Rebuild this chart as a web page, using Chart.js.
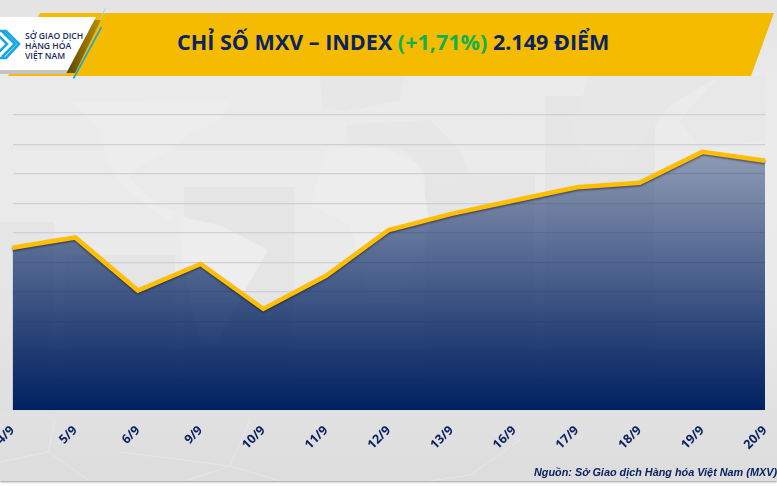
<!DOCTYPE html>
<html lang="vi"><head><meta charset="utf-8">
<script src="https://cdn.jsdelivr.net/npm/chart.js@4"></script>
<style>
html,body{margin:0;padding:0;width:777px;height:486px;overflow:hidden;background:#fff}
#wrap{position:absolute;left:0;top:0;width:777px;height:481px;overflow:hidden;background:linear-gradient(#e4e4e4 0,#ebebeb 90px,#eaeaea 300px,#dddddd 470px);box-shadow:0 1px 2px #999}
svg{position:absolute;left:0;top:0}
canvas{position:absolute;left:0;top:0}
#title{position:absolute;left:177px;top:27px;font:700 21.55px "Open Sans",sans-serif;color:#0b2361;white-space:nowrap;line-height:30px}
#title b{color:#12b150;font-weight:700}
#source{position:absolute;right:0;top:466px;font:italic 700 10.85px "Liberation Sans",sans-serif;color:#0b2361;white-space:nowrap}
.lg{position:absolute;left:25px;font:600 8.6px/10px "Open Sans",sans-serif;color:#1a2a5c;white-space:nowrap}
</style></head><body>
<div id="wrap">
<svg width="777" height="486">
 <defs><linearGradient id="gs" x1="0" x2="1" y1="0" y2="0"><stop offset="0" stop-color="#4a3805"/><stop offset="1" stop-color="#b58c06"/></linearGradient></defs>
 <g fill="#dcdcdc" opacity=".3">
  <rect x="0" y="222" width="54" height="190"/><rect x="65" y="255" width="110" height="155"/>
  <rect x="184" y="187" width="110" height="223"/><rect x="545" y="96" width="110" height="314"/>
  <rect x="425" y="175" width="110" height="235"/>
 </g>
 <g fill="#eeeeee" opacity=".9">
  <path d="M72 102 L232 100 L222 118 L190 132 L172 150 L140 166 L130 178 L158 206 L176 212 L170 222 L152 210 L125 188 L108 164 L98 128 Z"/>
  <path d="M178 216 L222 226 L268 250 L240 300 L215 345 L198 335 L186 280 Z"/>
  <path d="M325 150 L380 145 L420 165 L430 225 L400 300 L370 300 L350 225 L310 205 Z"/>
 </g>
 <g fill="#e7e7e7">
  <path d="M320 76 L405 76 L400 100 L345 112 L322 108 Z"/>
  <path d="M345 125 L430 120 L460 150 L470 175 L440 190 L405 150 L350 145 Z"/>
  <path d="M590 76 L720 76 L670 105 L640 145 L620 170 L590 165 L570 130 Z"/>
  <path d="M720 76 L766 76 L766 140 L700 150 L680 120 Z" opacity=".7"/>
 </g>
 <g stroke="#efefef" stroke-width="1" fill="none" opacity=".45">
  <path d="M48 452 L0 462 M48 452 L90 481 M48 452 L55 420 M230 466 L185 481 M230 466 L280 481 M230 466 L250 420 M230 466 L120 452 M470 475 L430 481 M470 475 L520 440 M7 170 L60 120 M7 170 L100 210 M100 205 L40 260"/>
 </g>
 <polygon points="40,13 774,13 751,76 8,76" fill="#f4bb00"/>
 <polygon points="92,20 101,20 75,73 66,73" fill="url(#gs)" opacity=".9"/>
 <polygon points="0,70 68,70 66,74 0,74" fill="#c4c4c4"/>
 <polygon points="0,17 96,17 68,70 0,70" fill="#fff"/>
 <line x1="101.5" y1="27" x2="73.5" y2="78.5" stroke="#1aa7e0" stroke-width="1.6"/>
 <line x1="105.5" y1="8" x2="100" y2="20" stroke="#a9d3df" stroke-width="1"/>
 <path d="M-4 33 L7 44 L-4 55 M2 31 L15 44 L2 57 M0 31 L6 31 L19 44 L6 58 L0 58" fill="none" stroke="#1aa7e0" stroke-width="2.6"/>
</svg>
<div class="lg" style="top:31px">SỞ GIAO DỊCH</div>
<div class="lg" style="top:41px">HÀNG HÓA</div>
<div class="lg" style="top:51px">VIỆT NAM</div>
<div id="title">CHỈ SỐ MXV – INDEX <b>(+1,71%)</b> 2.149 ĐIỂM</div>
<canvas id="c" width="777" height="486"></canvas>
<div id="source">Nguồn: Sở Giao dịch Hàng hóa Việt Nam (MXV)</div>
</div>
<script>
const categories = ["4/9","5/9","6/9","9/9","10/9","11/9","12/9","13/9","16/9","17/9","18/9","19/9","20/9"];
const mxvIndex = [2090,2097,2061,2079,2048.5,2071,2102,2113,2122,2131,2134,2155,2149];
const yMin = 1980, yMax = 2180, yStep = 20;

const lineShadow = {
  id:'lineShadow',
  beforeDatasetDraw(chart){const x=chart.ctx;x.save();x.shadowColor='rgba(20,20,40,.5)';x.shadowBlur=2;x.shadowOffsetY=1.5;},
  afterDatasetDraw(chart){chart.ctx.restore();}
};
new Chart(document.getElementById('c'),{
  type:'line',
  data:{labels:categories,datasets:[{
    data:mxvIndex,
    borderColor:'#ffbf00',borderWidth:4.5,borderJoinStyle:'miter',tension:0,pointRadius:0,fill:'start',
    backgroundColor(ctx){
      const a=ctx.chart.chartArea; if(!a) return 'transparent';
      const g=ctx.chart.ctx.createLinearGradient(0,140,0,a.bottom);
      g.addColorStop(0,'rgba(0,32,96,.36)');g.addColorStop(1,'rgba(0,32,96,1)');
      return g;
    }
  }]},
  options:{
    responsive:false,animation:false,
    layout:{padding:{left:12.5,right:12,top:115,bottom:0}},
    plugins:{legend:{display:false},tooltip:{enabled:false}},
    scales:{
      x:{offset:false,grid:{display:false},border:{display:false},
        afterFit(s){s.paddingLeft=0;s.paddingRight=0;s.height=76;},
        ticks:{minRotation:45,maxRotation:45,autoSkip:false,padding:5,color:'#0b2361',font:{family:'"Open Sans"',size:12.5,weight:'700'}}},
      y:{min:yMin,max:yMax,grid:{color:'#cdd0d8',lineWidth:1.2,drawTicks:false},border:{display:false},
        afterFit(s){s.width=0;},
        ticks:{display:false,stepSize:yStep}}
    }
  },
  plugins:[lineShadow]
});
</script>
</body></html>
